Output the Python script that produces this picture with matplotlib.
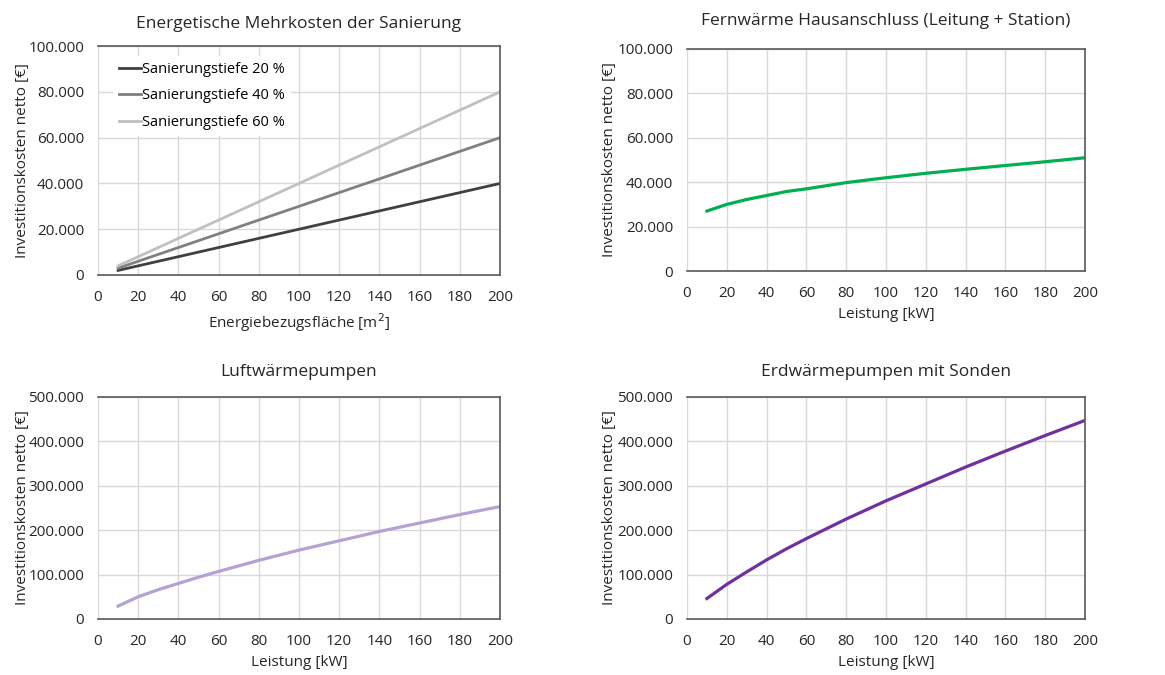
import numpy as np
import matplotlib
matplotlib.use("Agg")
import matplotlib.pyplot as plt
from matplotlib.ticker import FuncFormatter, MultipleLocator

plt.rcParams['font.family'] = ['Open Sans', 'DejaVu Sans']

# Data
flaeche = [10, 20, 40, 60, 80, 100, 120, 140, 160, 180, 200]
sanierung_20 = [2000, 4000, 8000, 12000, 16000, 20000, 24000, 28000, 32000, 36000, 40000]
sanierung_40 = [3000, 6000, 12000, 18000, 24000, 30000, 36000, 42000, 48000, 54000, 60000]
sanierung_60 = [4000, 8000, 16000, 24000, 32000, 40000, 48000, 56000, 64000, 72000, 80000]
sanierung_labels = ['Sanierungstiefe 20 %', 'Sanierungstiefe 40 %', 'Sanierungstiefe 60 %']

leistung = [10, 20, 30, 40, 50, 60, 80, 100, 120, 140, 160, 180, 200]
fernwaerme = [27000, 30000, 32200, 34000, 35800, 37000, 39800, 42000, 44000, 45800, 47500, 49200, 51000]
luft_wp = [29000, 50000, 66000, 80000, 94000, 107000, 132000, 155000, 176000, 197000, 216000, 235000, 253000]
erd_wp = [46000, 78000, 106000, 133000, 158000, 181000, 225000, 266000, 304000, 342000, 378000, 413000, 447000]

titles = ['Energetische Mehrkosten der Sanierung', 'Fernwärme Hausanschluss (Leitung + Station)',
          'Luftwärmepumpen', 'Erdwärmepumpen mit Sonden']
ylabel = 'Investitionskosten netto [€]'

def de_format(v, pos):
    return f"{int(round(v)):,}".replace(",", ".")

fig = plt.figure(figsize=(11.65, 6.75), dpi=100)

positions = [
    [0.0841, 0.5926, 0.345, 0.339],
    [0.5897, 0.5985, 0.3416, 0.329],
    [0.0841, 0.083, 0.345, 0.329],
    [0.5897, 0.083, 0.3416, 0.329],
]
axes = [fig.add_axes(p) for p in positions]

text_col = '#262626'

def style_axis(ax, title, xlabel, ymax, ystep, ylab_x, title_pad):
    ax.set_xlim(0, 200)
    ax.set_ylim(0, ymax)
    ax.xaxis.set_major_locator(MultipleLocator(20))
    ax.yaxis.set_major_locator(MultipleLocator(ystep))
    ax.yaxis.set_major_formatter(FuncFormatter(de_format))
    ax.grid(True, color='#d9d9d9', linewidth=1)
    ax.set_axisbelow(True)
    ax.tick_params(axis='x', length=0, labelsize=11, colors=text_col, pad=11)
    ax.tick_params(axis='y', length=0, labelsize=11, colors=text_col, pad=10)
    for side in ['top', 'right', 'bottom']:
        ax.spines[side].set_color('#595959')
        ax.spines[side].set_linewidth(1.2)
    ax.spines['left'].set_visible(False)
    ax.set_title(title, fontsize=12.5, color=text_col, pad=title_pad)
    ax.set_xlabel(xlabel, fontsize=11, color=text_col, labelpad=4)
    ax.set_ylabel(ylabel, fontsize=11, color=text_col)
    ax.yaxis.set_label_coords(ylab_x, 0.5)

# Panel 1
ax = axes[0]
ax.plot(flaeche, sanierung_20, color='#404040', linewidth=2, label=sanierung_labels[0])
ax.plot(flaeche, sanierung_40, color='#808080', linewidth=2, label=sanierung_labels[1])
ax.plot(flaeche, sanierung_60, color='#c0c0c0', linewidth=2, label=sanierung_labels[2])
style_axis(ax, titles[0], 'Energiebezugsfläche [m$^2$]', 100000, 20000, -0.17, 13)
ax.legend(loc='upper left', frameon=True, facecolor='white', edgecolor='none', framealpha=1,
          fontsize=10.5, handlelength=1.5, handletextpad=0.1, labelspacing=0.8,
          borderaxespad=0.2, bbox_to_anchor=(0.03, 0.97))

# Panel 2
ax = axes[1]
ax.plot(leistung, fernwaerme, color='#00b050', linewidth=2.3)
style_axis(ax, titles[1], 'Leistung [kW]', 100000, 20000, -0.175, 17)

# Panel 3
ax = axes[2]
ax.plot(leistung, luft_wp, color='#b4a2d2', linewidth=2.3)
style_axis(ax, titles[2], 'Leistung [kW]', 500000, 100000, -0.17, 15)

# Panel 4
ax = axes[3]
ax.plot(leistung, erd_wp, color='#7030a0', linewidth=2.3)
style_axis(ax, titles[3], 'Leistung [kW]', 500000, 100000, -0.175, 15)

fig.savefig('out.png', dpi=100)
